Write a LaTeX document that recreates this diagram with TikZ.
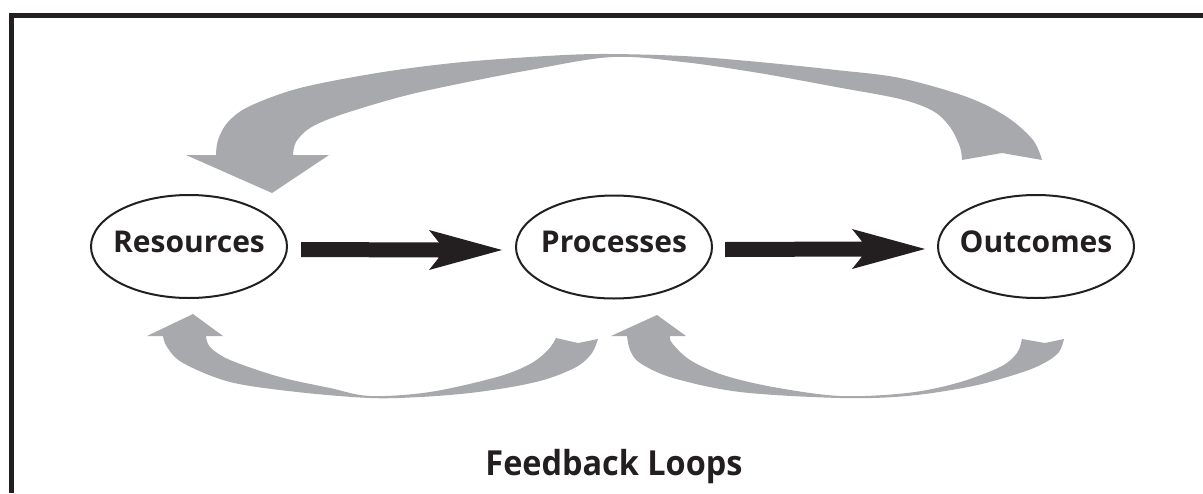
\documentclass[tikz,border=0pt]{standalone}
\usepackage{fontspec}
\setmainfont{Open Sans}
\newfontfamily\titlefont{Open Sans}[FakeStretch=0.94]
\usetikzlibrary{shapes.geometric,calc}
\definecolor{fbgray}{HTML}{A7A9AC}
\definecolor{fbblack}{HTML}{231F20}
\tikzset{
  stage/.style={ellipse, draw=fbblack, line width=2pt, minimum width=196pt, minimum height=103pt,
    inner sep=0pt},
  stagetext/.style={inner sep=0pt, yshift=-3pt, font=\fontsize{30}{36}\selectfont\bfseries, text=fbblack,
    text height=0.72em, text depth=0.14em},
  loopfill/.style={fill=fbgray},
  fatarrow/.style={fill=fbblack},
  frameline/.style={draw=fbblack, line width=5pt, line join=miter},
  titletext/.style={font=\titlefont\fontsize{34.5}{40}\selectfont\bfseries, text=fbblack, inner sep=0pt}
}
\begin{document}
\begin{tikzpicture}[x=1pt,y=-1pt]
\useasboundingbox (0,0) rectangle (1203,493);
% frame
\draw[frameline] (11,493) -- (11,15.5) -- (1203,15.5);

% stages
\node[stage, label={[stagetext]center:Resources}] (r) at (189,246.5) {};
\node[stage, label={[stagetext]center:Processes}] (p) at (614,247) {};
\node[stage, label={[stagetext]center:Outcomes}] (o) at (1036,246.5) {};

% black arrows
\path ($(r.east)+(13,3)$) coordinate (a1s) ($(p.west)+(-13,3)$) coordinate (a1e);
\path ($(p.east)+(12,2.5)$) coordinate (a2s) ($(o.west)+(-12,2.5)$) coordinate (a2e);
\foreach \s/\e in {a1s/a1e, a2s/a2e}{
  \fill[fatarrow] ($(\s)+(0,-7.5)$) -- ($(\e)+(-63,-7.5)$) -- ($(\e)+(-73,-20)$) -- (\e)
    -- ($(\e)+(-73,20)$) -- ($(\e)+(-63,7.5)$) -- ($(\s)+(0,7.5)$) -- cycle;
}

% top feedback loop: Outcomes -> Resources
\fill[loopfill] (272,193) -- (186,155)
  -- plot[smooth,tension=0.55] coordinates {(216,155) (218,140) (228,122) (250,106) (300,88) (377,73) (453,63) (530,57) (598,54) (683,56) (759,62) (836,70) (900,78) (967,97) (1007,117) (1033,140) (1042,160)}
  -- (1002,153)
  -- plot[smooth,tension=0.55] coordinates {(962,160) (960,147) (950,127) (933,111) (900,99) (836,87) (759,73) (683,62) (612,57) (530,70) (453,85) (400,97) (340,115) (310,128) (296,142) (293,155)}
  -- (329,155) -- cycle;

% bottom-left loop: Processes -> Resources
\fill[loopfill] (193,314) -- (223,336)
  -- plot[smooth,tension=0.55] coordinates {(206,336) (210,347) (230,360) (280,377) (330,388) (370,396) (430,392) (497,377) (530,364) (548,350) (556,338)}
  -- (578,343)
  -- plot[smooth,tension=0.55] coordinates {(598,339) (592,353) (578,366) (550,378) (517,386) (470,393) (420,397) (370,398) (297,392) (230,382) (183,363) (167,347) (163,336)}
  -- (147,336) -- cycle;

% bottom-right loop: Outcomes -> Processes
\fill[loopfill] (657,315) -- (686,336)
  -- plot[smooth,tension=0.55] coordinates {(670,336) (672,343) (690,360) (723,375) (773,387) (840,396) (907,393) (957,383) (1000,367) (1017,353) (1022,339)}
  -- (1045,343)
  -- plot[smooth,tension=0.55] coordinates {(1064,339) (1059,352) (1046,362) (1023,372) (973,386) (907,396) (840,398) (740,392) (673,378) (640,363) (630,350) (627,336)}
  -- (611,336) -- cycle;

% title
\node[titletext, anchor=base] (t) at (614,475) {Feedback Loops};
\end{tikzpicture}
\end{document}
